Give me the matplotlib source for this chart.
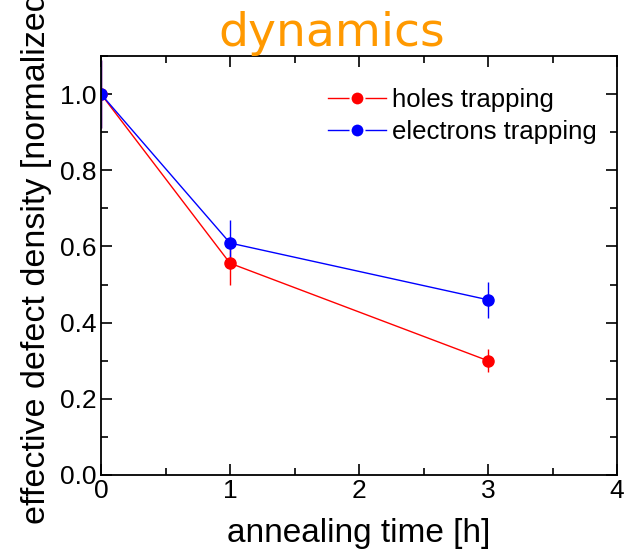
import matplotlib
matplotlib.use("Agg")
import matplotlib.pyplot as plt
from matplotlib.ticker import MultipleLocator
from matplotlib.lines import Line2D

plt.rcParams['font.family'] = ['Liberation Sans', 'DejaVu Sans']

time_h = [0, 1, 3]
holes = [1.0, 0.556, 0.300]
holes_err = [0.09, 0.057, 0.03]
electrons = [1.0, 0.609, 0.460]
electrons_err = [0.09, 0.06, 0.047]
series_labels = ['holes trapping', 'electrons trapping']
colors = ['#ff0000', '#0000ff']

fig = plt.figure(figsize=(6.27, 5.53), dpi=100)
ax = fig.add_axes([101/627, 1-475/553, (617-101)/627, (475-56)/553])

ax.errorbar(time_h, holes, yerr=holes_err, color=colors[0], marker='o', ms=8,
            lw=1, elinewidth=1, capsize=0)
ax.errorbar(time_h, electrons, yerr=electrons_err, color=colors[1], marker='o', ms=8,
            lw=1, elinewidth=1, capsize=0)

ax.set_xlim(0, 4)
ax.set_ylim(0, 1.1)
ax.xaxis.set_major_locator(MultipleLocator(1))
ax.xaxis.set_minor_locator(MultipleLocator(0.5))
ax.yaxis.set_minor_locator(MultipleLocator(0.1))
ax.tick_params(which='both', direction='in', top=True, right=True, labelsize=19, width=1.2)
ax.tick_params(which='major', length=8, pad=3)
ax.tick_params(which='minor', length=5)
ax.set_yticks([0, 0.2, 0.4, 0.6, 0.8, 1.0])
ax.set_yticklabels(['0.0', '0.2', '0.4', '0.6', '0.8', '1.0'])
for s in ax.spines.values():
    s.set_linewidth(1.3)

ax.set_xlabel('annealing time [h]', fontsize=24, labelpad=11)

fig.text(37/627, 1-524/553, 'effective defect density [normalized]', rotation=90,
         ha='center', va='bottom', fontsize=24.5)

fig.text(332/627, 1-46/553, 'dynamics', ha='center', va='baseline', fontsize=34,
         color='#ff9900', family=['DejaVu Sans'])

handles = [Line2D([], [], color=c, lw=1, marker='o', ms=10, markerfacecolor=c,
                  markeredgecolor='white', markeredgewidth=1.5) for c in colors]
leg = ax.legend(handles, series_labels, loc='upper left', bbox_to_anchor=(328/627, 1-88/553),
                bbox_transform=fig.transFigure, frameon=False, fontsize=18.5, borderpad=0,
                borderaxespad=0, handlelength=2.25, handletextpad=0.25, labelspacing=0.32)

fig.savefig('out.png', dpi=100)
